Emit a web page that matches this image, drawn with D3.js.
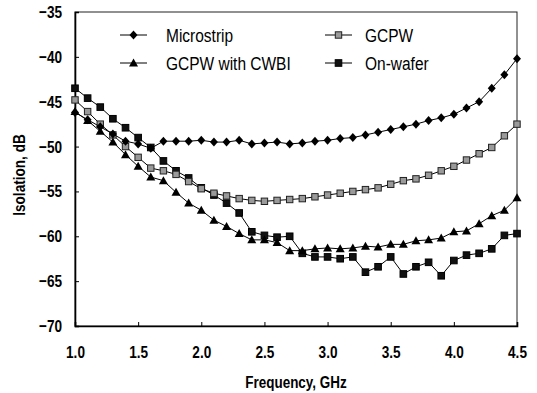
<!DOCTYPE html>
<html>
<head>
<meta charset="utf-8">
<script src="https://cdn.jsdelivr.net/npm/d3@7"></script>
<style>
  body { margin: 0; background: #fff; }
  svg { display: block; font-family: "Liberation Sans", Arial, sans-serif; }
</style>
</head>
<body>
<svg width="537" height="393"></svg>
<script>
// frequency points, GHz
let freq = [1.0, 1.1, 1.2, 1.3, 1.4, 1.5, 1.6, 1.7, 1.8, 1.9, 2.0, 2.1, 2.2, 2.3, 2.4, 2.5, 2.6, 2.7,
            2.8, 2.9, 3.0, 3.1, 3.2, 3.3, 3.4, 3.5, 3.6, 3.7, 3.8, 3.9, 4.0, 4.1, 4.2, 4.3, 4.4, 4.5];

let microstrip = [-46.2, -47.0, -47.8, -48.6, -49.4, -49.7, -50.2, -49.4, -49.4, -49.4, -49.3, -49.5,
                  -49.5, -49.3, -49.7, -49.6, -49.5, -49.7, -49.6, -49.4, -49.3, -49.1, -49.0, -48.7,
                  -48.4, -48.1, -47.8, -47.5, -47.1, -46.8, -46.4, -45.7, -45.0, -43.5, -42.0, -40.2];

let gcpw = [-44.8, -46.1, -47.5, -48.7, -50.0, -51.2, -52.4, -52.7, -53.1, -53.9, -54.7, -55.2,
            -55.5, -55.8, -56.0, -56.1, -56.0, -55.9, -55.8, -55.6, -55.4, -55.2, -55.0, -54.8,
            -54.6, -54.2, -53.8, -53.6, -53.2, -52.7, -52.2, -51.5, -50.8, -50.1, -48.8, -47.5];

let gcpw_cwbi = [-46.1, -47.1, -48.3, -49.5, -50.9, -52.2, -53.4, -53.8, -55.1, -56.3, -57.1, -58.2,
                 -58.9, -59.7, -60.4, -60.4, -60.7, -61.6, -61.6, -61.4, -61.3, -61.4, -61.3, -61.1,
                 -61.2, -60.9, -60.9, -60.5, -60.4, -60.2, -59.5, -59.4, -58.6, -57.7, -57.1, -55.7];

let on_wafer = [-43.5, -44.6, -45.6, -46.9, -47.9, -49.0, -50.1, -51.6, -52.7, -53.5, -54.6, -55.4,
                -56.3, -57.4, -59.5, -59.9, -60.1, -60.0, -61.9, -62.3, -62.3, -62.5, -62.3, -64.0,
                -63.4, -62.3, -64.2, -63.4, -62.9, -64.4, -62.7, -62.1, -61.9, -61.4, -59.9, -59.7];

let series_names = ["Microstrip", "GCPW", "GCPW with CWBI", "On-wafer"];
let x_ticks = [1.0, 1.5, 2.0, 2.5, 3.0, 3.5, 4.0, 4.5];
let y_ticks = [-70, -65, -60, -55, -50, -45, -40, -35];

var margin = {top: 12, right: 20, bottom: 67, left: 75};
var width = 537 - margin.left - margin.right;
var height = 393 - margin.top - margin.bottom;

var svg = d3.select("svg");
var g = svg.append("g").attr("transform", "translate(" + margin.left + "," + margin.top + ")");

var x = d3.scaleLinear().domain([1.0, 4.5]).range([0, width]);
var y = d3.scaleLinear().domain([-70, -35]).range([height, 0]);

// squeeze text a bit, the original font is narrow
function condense(sel, k) {
  sel.each(function() {
    var w = this.getComputedTextLength();
    d3.select(this).attr("textLength", w * k).attr("lengthAdjust", "spacingAndGlyphs");
  });
}

// frame
g.append("rect")
  .attr("width", width).attr("height", height)
  .attr("fill", "none").attr("stroke", "#222").attr("stroke-width", 1);

var xa = g.append("g")
  .attr("transform", "translate(0," + height + ")")
  .call(d3.axisBottom(x).tickValues(x_ticks).tickFormat(d3.format(".1f")).tickSize(-4).tickPadding(20));
var ya = g.append("g")
  .call(d3.axisLeft(y).tickValues(y_ticks).tickSize(-4).tickPadding(13));

[xa, ya].forEach(function(a) {
  a.select(".domain").attr("stroke", "#000").attr("stroke-width", 1.6);
  a.selectAll(".tick line").attr("stroke", "#000");
  a.selectAll("text")
    .attr("font-size", 17).attr("font-weight", "bold")
    .attr("font-family", "Liberation Sans, Arial, sans-serif").attr("fill", "#000");
});
condense(xa.selectAll("text"), 0.8);
condense(ya.selectAll("text"), 0.8);

svg.append("text")
  .attr("x", margin.left + width / 2).attr("y", 388)
  .attr("text-anchor", "middle").attr("font-size", 16).attr("font-weight", "bold")
  .text("Frequency, GHz")
  .call(condense, 0.84);

svg.append("text")
  .attr("transform", "translate(25," + (margin.top + height / 2 + 6) + ") rotate(-90)")
  .attr("text-anchor", "middle").attr("font-size", 16).attr("font-weight", "bold")
  .text("Isolation, dB")
  .call(condense, 0.85);

var line = d3.line().x(d => x(d[0])).y(d => y(d[1]));

function marker(sel, kind) {
  if (kind == 0) {
    sel.append("path").attr("d", "M0,-4.5L4,0L0,4.5L-4,0Z").attr("fill", "#000");
  } else if (kind == 1) {
    sel.append("rect").attr("x", -3.2).attr("y", -3.2).attr("width", 6.4).attr("height", 6.4)
      .attr("fill", "#9a9a9a").attr("stroke", "#222").attr("stroke-width", 1);
  } else if (kind == 2) {
    sel.append("path").attr("d", "M0,-4.5L4.5,3.5L-4.5,3.5Z").attr("fill", "#000");
  } else {
    sel.append("rect").attr("x", -3.3).attr("y", -3.3).attr("width", 6.6).attr("height", 6.6)
      .attr("fill", "#111").attr("stroke", "#000").attr("stroke-width", 1);
  }
}

// draw order: back to front
var all = [microstrip, gcpw, gcpw_cwbi, on_wafer];
[3, 1, 2, 0].forEach(function(k) {
  var pts = freq.map((f, i) => [f, all[k][i]]);
  g.append("path").datum(pts)
    .attr("d", line).attr("fill", "none").attr("stroke", "#000").attr("stroke-width", 1);
  g.selectAll(".m" + k).data(pts).enter().append("g")
    .attr("class", "m" + k)
    .attr("transform", d => "translate(" + x(d[0]) + "," + y(d[1]) + ")")
    .each(function() { marker(d3.select(this), k); });
});

// legend
var legend_pos = [[120, 35], [325, 35], [120, 63], [325, 63]];
series_names.forEach(function(name, k) {
  var lg = svg.append("g").attr("transform", "translate(" + legend_pos[k][0] + "," + legend_pos[k][1] + ")");
  lg.append("line").attr("x1", 0).attr("x2", 27).attr("stroke", "#000").attr("stroke-width", 1);
  lg.append("g").attr("transform", "translate(13.5,0)").call(marker, k);
  lg.append("text").attr("x", k % 2 == 0 ? 46 : 40).attr("y", 6.5)
    .attr("font-size", 18).text(name).call(condense, 0.86);
});
</script>
</body>
</html>
